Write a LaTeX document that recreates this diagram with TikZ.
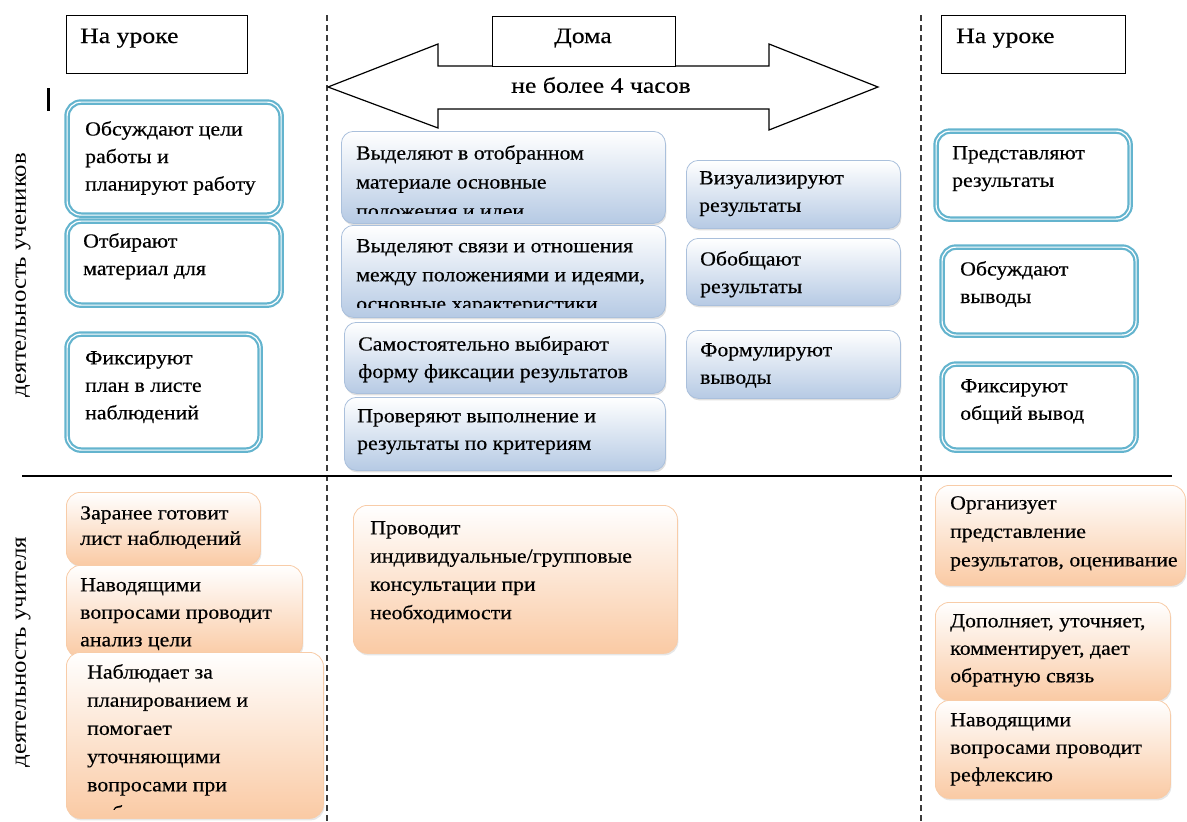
\documentclass[tikz,border=0pt]{standalone}
\usepackage{fontspec}
\setmainfont[FakeStretch=1.09,FakeBold=0.4]{Liberation Serif}
\newfontfamily\hdfont[FakeStretch=1.17,FakeBold=0.4]{Liberation Serif}
\newfontfamily\sdfont[FakeStretch=1.13]{Liberation Serif}
\usetikzlibrary{shadows}
\definecolor{tealb}{RGB}{100,180,206}
\definecolor{blueb}{RGB}{170,192,220}
\definecolor{bluef}{RGB}{182,202,228}
\definecolor{orb}{RGB}{248,204,168}
\definecolor{orf}{RGB}{250,202,164}
\definecolor{dashc}{RGB}{60,60,60}
\newcommand\tx[5][]{\node[txt,#1] (#2) at (#3,#4-14) {#5};}
\begin{document}
\begin{tikzpicture}[x=1pt,y=-1pt,
  dbl/.style={draw=tealb, line width=2.2pt, double=white, double distance=1.2pt, rounded corners=14pt, fill=white, inner sep=0pt, anchor=north west},
  bbox/.style={draw=blueb, line width=0.8pt, rounded corners=12pt, top color=white, bottom color=bluef, inner sep=0pt, anchor=north west, drop shadow={shadow xshift=1pt, shadow yshift=-2pt, opacity=0.25}},
  obox/.style={draw=orb, line width=0.8pt, rounded corners=14pt, top color=white, bottom color=orf, inner sep=0pt, anchor=north west, drop shadow={shadow xshift=1pt, shadow yshift=-2pt, opacity=0.2}},
  hbox/.style={draw=black, line width=1pt, fill=white, inner sep=0pt, anchor=north west},
  txt/.style={anchor=north west, inner sep=0pt, align=left, font=\fontsize{20}{27.5}\selectfont},
  htxt/.style={inner sep=0pt, font=\hdfont\fontsize{22}{26}\selectfont},
  side/.style={rotate=90, inner sep=0pt, font=\sdfont\fontsize{22}{26}\selectfont},
  divd/.style={draw=dashc, line width=1.3pt, dash pattern=on 6pt off 4pt},
  divs/.style={draw=black, line width=1.5pt}]
\useasboundingbox (0,0) rectangle (1187,822);

% dividers
\coordinate (d1a) at (327,15); \coordinate (d1b) at (327,822);
\coordinate (d2a) at (921,15); \coordinate (d2b) at (921,822);
\coordinate (ha) at (22,476); \coordinate (hb) at (1172,476);
\draw[divd] (d1a) -- (d1b);
\draw[divd] (d2a) -- (d2b);
\draw[divs] (ha) -- (hb);

% headers
\node[hbox, minimum width=181pt, minimum height=58pt] (hl) at (66,15) {};
\node[htxt, anchor=base west] (hlt) at (80,43) {На уроке};
\node[hbox, minimum width=184pt, minimum height=58pt] (hr) at (941,15) {};
\node[htxt, anchor=base west] (hrt) at (956,43) {На уроке};

% double arrow
\draw[line width=1.2pt, fill=white] (328,87) -- (438,44) -- (438,66) -- (769,66) -- (769,44) -- (878,87) -- (769,130) -- (769,109) -- (438,109) -- (438,128) -- cycle;
\node[hbox, minimum width=183pt, minimum height=50pt] (home) at (492,16) {};
\node[htxt, anchor=base] (homet) at (583,43) {Дома};
\node[htxt] (hours) at (601,85) {не более 4 часов};

% cursor bar
\node[fill=black, minimum width=3.5pt, minimum height=23pt, inner sep=0pt] (bar) at (48.5,99.5) {};

% side labels
\node[side] (s1) at (23,275) {деятельность учеников};
\node[side] (s2) at (23,652) {деятельность учителя};

% left student boxes
\node[dbl, minimum width=214pt, minimum height=113pt] (l1) at (66,101) {};
\node[dbl, minimum width=214pt, minimum height=84pt] (l2) at (66,220) {};
\node[dbl, minimum width=193pt, minimum height=116pt] (l3) at (66,333) {};
\tx{l1t}{85}{135}{Обсуждают цели\\работы и\\планируют работу}
\tx{l2t}{83}{247}{Отбирают\\материал для}
\tx{l3t}{85}{365}{Фиксируют\\план в листе\\наблюдений}

% middle blue boxes
\node[bbox, minimum width=324pt, minimum height=92pt] (m1) at (341,131) {};
\begin{scope}
\clip (341,131) rectangle (665,213);
\tx[font=\fontsize{20}{29}\selectfont]{m1t}{356}{159}{Выделяют в отобранном\\материале основные\\положения и идеи}
\end{scope}
\node[bbox, minimum width=324pt, minimum height=92pt] (m2) at (341,225) {};
\begin{scope}
\clip (341,225) rectangle (665,307);
\tx[font=\fontsize{20}{29}\selectfont]{m2t}{356}{253}{Выделяют связи и отношения\\между положениями и идеями,\\основные характеристики}
\end{scope}
\node[bbox, minimum width=321pt, minimum height=71pt] (m3) at (344,322) {};
\tx{m3t}{358}{350}{Самостоятельно выбирают\\форму фиксации результатов}
\node[bbox, minimum width=321pt, minimum height=73pt] (m4) at (344,397) {};
\tx{m4t}{357}{423}{Проверяют выполнение и\\результаты по критериям}

\node[bbox, minimum width=214pt, minimum height=68pt] (r1) at (686,160) {};
\tx{r1t}{699}{185}{Визуализируют\\результаты}
\node[bbox, minimum width=214pt, minimum height=67pt] (r2) at (686,238) {};
\tx{r2t}{700}{265}{Обобщают\\результаты}
\node[bbox, minimum width=214pt, minimum height=68pt] (r3) at (686,330) {};
\tx{r3t}{700}{357}{Формулируют\\выводы}

% right student boxes
\node[dbl, minimum width=194pt, minimum height=88pt] (rr1) at (935,130) {};
\tx{rr1t}{952}{160}{Представляют\\результаты}
\node[dbl, minimum width=194pt, minimum height=88pt] (rr2) at (941,246) {};
\tx{rr2t}{960}{275}{Обсуждают\\выводы}
\node[dbl, minimum width=194pt, minimum height=86pt] (rr3) at (941,363) {};
\tx{rr3t}{960}{393}{Фиксируют\\общий вывод}

% teacher boxes left
\node[obox, minimum width=194pt, minimum height=73pt] (o1) at (66,492) {};
\tx[font=\fontsize{20}{25.5}\selectfont]{o1t}{80}{520}{Заранее готовит\\лист наблюдений}
\node[obox, minimum width=236pt, minimum height=92pt] (o2) at (66,565) {};
\tx{o2t}{80}{592}{Наводящими\\вопросами проводит\\анализ цели}
\node[obox, minimum width=257pt, minimum height=166pt] (o3) at (66,652) {};
\begin{scope}
\clip (66,652) rectangle (323,809);
\tx[font=\fontsize{20}{28.2}\selectfont]{o3t}{87}{678}{Наблюдает за\\планированием и\\помогает\\уточняющими\\вопросами при\\выборе}
\end{scope}

% teacher box middle
\node[obox, minimum width=324pt, minimum height=148pt] (o4) at (353,505) {};
\tx[font=\fontsize{20}{28.3}\selectfont]{o4t}{370}{535}{Проводит\\индивидуальные/групповые\\консультации при\\необходимости}

% teacher boxes right
\node[obox, minimum width=250pt, minimum height=100pt] (o5) at (935,485) {};
\tx[font=\fontsize{20}{28.5}\selectfont]{o5t}{950}{510}{Организует\\представление\\результатов, оценивание}
\node[obox, minimum width=235pt, minimum height=98pt] (o6) at (935,602) {};
\tx{o6t}{950}{628}{Дополняет, уточняет,\\комментирует, дает\\обратную связь}
\node[obox, minimum width=235pt, minimum height=98pt] (o7) at (935,700) {};
\tx{o7t}{950}{727}{Наводящими\\вопросами проводит\\рефлексию}
\end{tikzpicture}
\end{document}
